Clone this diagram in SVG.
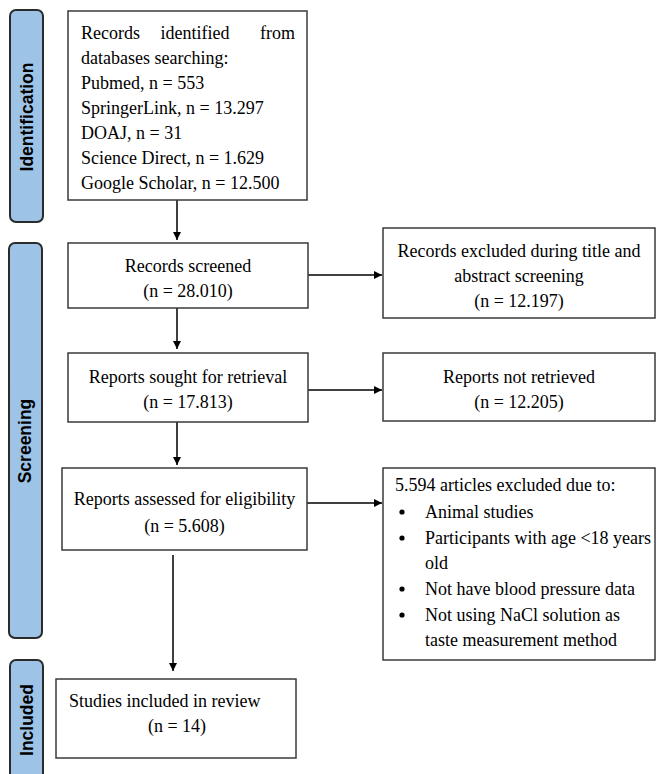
<svg xmlns="http://www.w3.org/2000/svg" width="657" height="774" viewBox="0 0 657 774">
<style>
.bg{fill:#ffffff}
.box{fill:#ffffff;stroke:#3a3a3a;stroke-width:1.5}
.side{fill:#9dc3e6;stroke:#2b2b2b;stroke-width:2}
.t{font-family:"Liberation Serif","Times New Roman",serif;font-size:18px;fill:#000}
.m{text-anchor:middle}
.e{text-anchor:end}
.lab{font-family:"Liberation Sans",Arial,sans-serif;font-size:17.5px;font-weight:bold;fill:#000;text-anchor:middle}
.c{stroke:#000;stroke-width:1.5;fill:none;marker-end:url(#ah)}
</style>
<defs>
<marker id="ah" viewBox="0 0 10 10" refX="10" refY="5" markerWidth="8" markerHeight="8" markerUnits="userSpaceOnUse" orient="auto">
<path d="M0,0 L10,5 L0,10 Z" fill="#000"/>
</marker>
</defs>
<rect class="bg" x="0" y="0" width="657" height="774"/>

<g id="side-identification">
<rect class="side" x="10" y="10" width="33" height="212" rx="6"/>
<text class="lab" transform="translate(32.5,117) rotate(-90)">Identification</text>
</g>
<g id="side-screening">
<rect class="side" x="9" y="243" width="33" height="395" rx="6"/>
<text class="lab" transform="translate(31,441) rotate(-90)">Screening</text>
</g>
<g id="side-included">
<rect class="side" x="10" y="660" width="33" height="124" rx="6"/>
<text class="lab" transform="translate(33,720) rotate(-90)">Included</text>
</g>

<g id="connectors">
<line class="c" x1="177" y1="200" x2="177" y2="240"/>
<line class="c" x1="177" y1="308" x2="177" y2="349"/>
<line class="c" x1="177" y1="422" x2="177" y2="465"/>
<line class="c" x1="173" y1="555" x2="173" y2="671"/>
<line class="c" x1="308" y1="275" x2="382" y2="275"/>
<line class="c" x1="308" y1="390" x2="382" y2="390"/>
<line class="c" x1="307" y1="503" x2="382" y2="503"/>
</g>

<g id="n-identified">
<rect class="box" x="68" y="11" width="239" height="189"/>
<text class="t" x="81" y="39">Records</text>
<text class="t m" x="195" y="39">identified</text>
<text class="t e" x="295" y="39">from</text>
<text class="t" x="81" y="64">databases searching:</text>
<text class="t" x="81" y="89">Pubmed, n = 553</text>
<text class="t" x="81" y="114">SpringerLink, n = 13.297</text>
<text class="t" x="81" y="139">DOAJ, n = 31</text>
<text class="t" x="81" y="164">Science Direct, n = 1.629</text>
<text class="t" x="81" y="189">Google Scholar, n = 12.500</text>
</g>

<g id="n-screened">
<rect class="box" x="68" y="243" width="240" height="65"/>
<text class="t m" x="188" y="272">Records screened</text>
<text class="t m" x="188" y="297">(n = 28.010)</text>
</g>

<g id="n-excluded">
<rect class="box" x="383" y="228" width="272" height="90"/>
<text class="t m" x="519" y="257">Records excluded during title and</text>
<text class="t m" x="519" y="282">abstract screening</text>
<text class="t m" x="519" y="307">(n = 12.197)</text>
</g>

<g id="n-sought">
<rect class="box" x="68" y="353" width="240" height="69"/>
<text class="t m" x="188" y="383">Reports sought for retrieval</text>
<text class="t m" x="188" y="408">(n = 17.813)</text>
</g>

<g id="n-notretrieved">
<rect class="box" x="383" y="353" width="272" height="68"/>
<text class="t m" x="519" y="383">Reports not retrieved</text>
<text class="t m" x="519" y="408">(n = 12.205)</text>
</g>

<g id="n-assessed">
<rect class="box" x="62" y="468" width="245" height="82"/>
<text class="t m" x="184.5" y="505">Reports assessed for eligibility</text>
<text class="t m" x="184.5" y="532">(n = 5.608)</text>
</g>

<g id="n-articles-excluded">
<rect class="box" x="383" y="468" width="272" height="192"/>
<text class="t" x="395" y="491">5.594 articles excluded due to:</text>
<circle cx="402" cy="512" r="2.6"/>
<text class="t" x="425" y="518">Animal studies</text>
<circle cx="402" cy="538" r="2.6"/>
<text class="t" x="425" y="544">Participants with age &lt;18 years</text>
<text class="t" x="425" y="569">old</text>
<circle cx="402" cy="589" r="2.6"/>
<text class="t" x="425" y="595">Not have blood pressure data</text>
<circle cx="402" cy="615" r="2.6"/>
<text class="t" x="425" y="621">Not using NaCl solution as</text>
<text class="t" x="425" y="646">taste measurement method</text>
</g>

<g id="n-included">
<rect class="box" x="56" y="679" width="240" height="79"/>
<text class="t" x="69" y="707">Studies included in review</text>
<text class="t m" x="177" y="732">(n = 14)</text>
</g>
</svg>
